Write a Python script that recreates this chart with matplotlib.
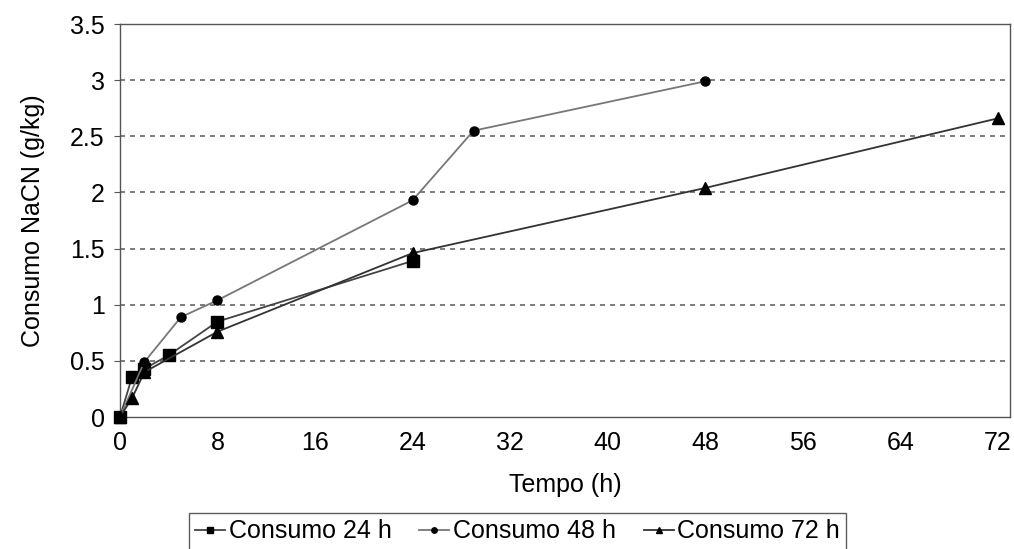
import matplotlib.pyplot as plt

plt.rcParams['font.family'] = ['Liberation Sans', 'DejaVu Sans']

t_24 = [0, 1, 2, 4, 8, 24]
c_24 = [0, 0.36, 0.43, 0.55, 0.85, 1.39]
t_48 = [0, 2, 5, 8, 24, 29, 48]
c_48 = [0, 0.49, 0.89, 1.04, 1.93, 2.55, 2.99]
t_72 = [0, 1, 2, 8, 24, 48, 72]
c_72 = [0, 0.17, 0.40, 0.76, 1.46, 2.04, 2.66]

xticks = list(range(0, 73, 8))
yticks = [0, 0.5, 1, 1.5, 2, 2.5, 3, 3.5]
ytick_labels = ['0', '0.5', '1', '1.5', '2', '2.5', '3', '3.5']

fig = plt.figure(figsize=(10.14, 5.49), dpi=100)
ax = fig.add_axes([0.1183, 0.2404, 0.8777, 0.7158])

ax.plot(t_24, c_24, color='#444444', lw=1.3, marker='s', ms=8, mfc='black', mec='black',
        label='Consumo 24 h', clip_on=False, zorder=3)
ax.plot(t_48, c_48, color='#777777', lw=1.3, marker='o', ms=6.5, mfc='black', mec='black',
        label='Consumo 48 h', clip_on=False, zorder=3)
ax.plot(t_72, c_72, color='#333333', lw=1.3, marker='^', ms=8, mfc='black', mec='black',
        label='Consumo 72 h', clip_on=False, zorder=3)

ax.set_xlim(0, 73)
ax.set_ylim(0, 3.5)
ax.set_xticks(xticks)
ax.set_yticks(yticks)
ax.set_yticklabels(ytick_labels)
for y in yticks[1:-1]:
    ax.axhline(y, color='#666666', lw=1.2, ls=(0, (3, 3)), zorder=0)

for s in ax.spines.values():
    s.set_color('#555555')
    s.set_linewidth(1.0)
ax.tick_params(axis='both', labelsize=18, color='#555555', direction='out', length=4, pad=7)
ax.tick_params(axis='x', length=0, pad=10)

ax.set_xlabel('Tempo (h)', fontsize=18, labelpad=13)
ax.set_ylabel('Consumo NaCN (g/kg)', fontsize=18, labelpad=18)

leg = fig.legend(loc='upper left', bbox_to_anchor=(189 / 1014, 1 - 513 / 549), ncol=3, fontsize=18,
                 frameon=True, fancybox=False, edgecolor='#333333', handlelength=1.2,
                 handletextpad=0.15, columnspacing=1.1, borderpad=0.25, borderaxespad=0,
                 markerscale=0.6)
leg.get_frame().set_linewidth(1.0)

fig.savefig('out.png', dpi=100)
